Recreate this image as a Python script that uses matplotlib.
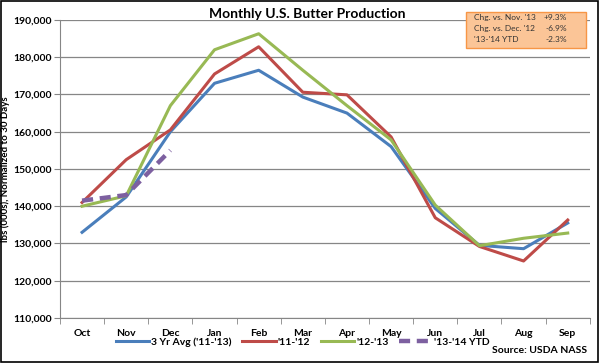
import numpy as np
import matplotlib.pyplot as plt
from matplotlib.patches import Rectangle, FancyBboxPatch

plt.rcParams['font.family'] = ['Lato', 'DejaVu Sans']

months = ['Oct', 'Nov', 'Dec', 'Jan', 'Feb', 'Mar', 'Apr', 'May', 'Jun', 'Jul', 'Aug', 'Sep']
avg_3yr = [133000, 142500, 160000, 173000, 176500, 169300, 165000, 156000, 139400, 129500, 128600, 135500]
y11_12 = [141000, 152500, 160500, 175500, 182800, 170600, 169900, 158600, 136900, 129200, 125300, 136300]
y12_13 = [140000, 142800, 167000, 182000, 186300, 176500, 167000, 157800, 140300, 129400, 131400, 132800]
y13_14 = [141500, 143000, 155000]

box_rows = [("Chg. vs. Nov. '13", "+9.3%"), ("Chg. vs. Dec. '12", "-6.9%"), ("'13-'14 YTD", "-2.3%")]

fig = plt.figure(figsize=(6, 3.63), dpi=100)
ax = fig.add_axes([0.1, 0.124, 0.883, 0.821])

x = np.arange(len(months))
ax.plot(x, avg_3yr, color='#4A7EBB', lw=2.2, label="3 Yr Avg ('11-'13)")
ax.plot(x, y11_12, color='#BE4B48', lw=2.2, label="'11-'12")
ax.plot(x, y12_13, color='#98B954', lw=2.2, label="'12-'13")
ax.plot(x[:len(y13_14)], y13_14, color='#7D60A0', lw=3.2, ls=(0, (2.5, 1.5)),
        label="'13-'14 YTD")

ax.set_xlim(-0.5, 11.5)
ax.set_ylim(110000, 190000)
ax.set_yticks(np.arange(110000, 190001, 10000))
ax.set_yticklabels([f'{v:,}' for v in range(110000, 190001, 10000)])
ax.set_xticks(x)
ax.set_xticklabels(months)
ax.set_xticks(np.arange(-0.5, 12, 1), minor=True)
ax.tick_params(axis='x', which='major', length=0, pad=8)
ax.tick_params(axis='x', which='minor', length=4, color='#868686', direction='out')
ax.tick_params(axis='y', length=4, color='#868686', pad=2)
ax.tick_params(labelsize=7.5)
for lab in ax.get_xticklabels() + ax.get_yticklabels():
    lab.set_fontweight('bold')

ax.grid(axis='y', color='#868686', lw=0.9)
ax.set_axisbelow(True)
for s in ['top', 'right']:
    ax.spines[s].set_visible(False)
ax.spines['left'].set_color('#868686')
ax.spines['bottom'].set_color('#868686')

ax.set_ylabel('lbs (000s), Normalized to 30 Days', fontsize=7, fontweight='bold')
ax.yaxis.set_label_coords(-0.095, 0.5)
fig.text(0.512, 0.962, 'Monthly U.S. Butter Production', ha='center', va='center',
         fontsize=10, fontweight='bold')

ax.legend(loc='center', bbox_to_anchor=(0.505, 0.058), bbox_transform=fig.transFigure,
          ncol=4, frameon=False, handlelength=3.2, columnspacing=1.0,
          handletextpad=0.2, prop={'weight': 'bold', 'size': 7.5})

fig.text(0.978, 0.035, 'Source: USDA NASS', ha='right', va='center', fontsize=7.5,
         fontweight='bold')

# orange summary box
bx = FancyBboxPatch((0.777, 0.868), 0.2, 0.1, boxstyle='square,pad=0',
                    transform=fig.transFigure, facecolor='#FBC597', edgecolor='#F79646',
                    lw=1.0, zorder=5)
fig.patches.append(bx)
for i, (lbl, val) in enumerate(box_rows):
    yy = 0.953 - i * 0.031
    fig.text(0.79, yy, lbl, fontsize=6, va='center', zorder=6, color='#333333')
    fig.text(0.945, yy, val, fontsize=6, va='center', ha='right', zorder=6, color='#333333')

fig.patches.append(Rectangle((0.002, 0.003), 0.995, 0.993, transform=fig.transFigure,
                             fill=False, edgecolor='black', lw=1.2))

fig.savefig('out.png', dpi=100)
